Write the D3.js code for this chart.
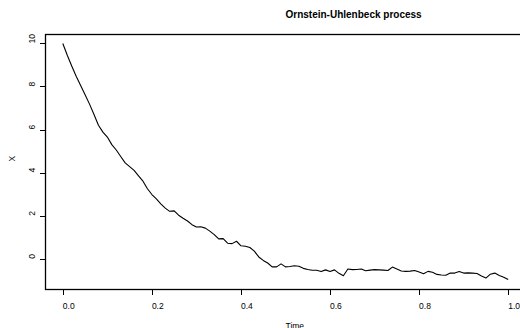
<!DOCTYPE html>
<html>
<head>
<meta charset="utf-8">
<script src="https://cdn.jsdelivr.net/npm/d3@7"></script>
<style>
  body { margin: 0; background: #fff; }
  svg { display: block; }
  text { font-family: "Liberation Sans", Arial, sans-serif; fill: #000; }
</style>
</head>
<body>
<svg id="chart" width="520" height="328"></svg>
<script>
// simulated path, one value per 0.01 of time
const times = d3.range(101).map(i => i / 100);
const values = [
    10.00, 9.45, 8.95, 8.48, 8.05, 7.62, 7.18, 6.70, 6.20, 5.88,
    5.65, 5.30, 5.05, 4.75, 4.45, 4.28, 4.10, 3.85, 3.60, 3.25,
    2.98, 2.78, 2.55, 2.35, 2.20, 2.22, 2.02, 1.88, 1.75, 1.58,
    1.47, 1.48, 1.42, 1.28, 1.12, 0.92, 0.93, 0.72, 0.70, 0.81,
    0.60, 0.58, 0.52, 0.35, 0.08, -0.08, -0.20, -0.38, -0.38, -0.24,
    -0.38, -0.36, -0.33, -0.35, -0.45, -0.50, -0.54, -0.54, -0.60, -0.52,
    -0.60, -0.52, -0.68, -0.79, -0.48, -0.51, -0.50, -0.48, -0.56, -0.53,
    -0.51, -0.52, -0.53, -0.55, -0.39, -0.48, -0.57, -0.59, -0.58, -0.55,
    -0.62, -0.70, -0.59, -0.63, -0.73, -0.76, -0.77, -0.67, -0.67, -0.60,
    -0.67, -0.66, -0.67, -0.69, -0.80, -0.90, -0.72, -0.67, -0.78, -0.86,
    -0.97
];
const xTicks = [0, 0.2, 0.4, 0.6, 0.8, 1.0];
const yTicks = [0, 2, 4, 6, 8, 10];

const title = "Ornstein-Uhlenbeck process";
const xLabel = "Time", yLabel = "X";

const svg = d3.select("#chart");
const box = { left: 45, right: 526, top: 34, bottom: 289 };

// R style 4% padding around the data
const pad = (ext) => { const d = (ext[1] - ext[0]) * 0.04; return [ext[0] - d, ext[1] + d]; };
const x = d3.scaleLinear().domain(pad(d3.extent(times))).range([box.left, box.right]);
const y = d3.scaleLinear().domain(pad(d3.extent(values))).range([box.bottom, box.top]);

const line = d3.line().x((d, i) => x(times[i])).y(d => y(d));
svg.append("path")
    .datum(values)
    .attr("d", line)
    .attr("fill", "none")
    .attr("stroke", "#000")
    .attr("stroke-width", 1.1)
    .attr("stroke-linejoin", "round");

svg.append("rect")
    .attr("x", box.left + 0.5).attr("y", box.top + 0.5)
    .attr("width", box.right - box.left).attr("height", box.bottom - box.top)
    .attr("fill", "none").attr("stroke", "#000").attr("stroke-width", 1.3);

// x axis ticks + labels (labels start at the tick)
const gx = svg.append("g");
gx.selectAll("line").data(xTicks).join("line")
    .attr("x1", d => Math.round(x(d)) + 0.5).attr("x2", d => Math.round(x(d)) + 0.5)
    .attr("y1", box.bottom).attr("y2", box.bottom + 6)
    .attr("stroke", "#000");
gx.selectAll("text").data(xTicks).join("text")
    .attr("x", d => x(d)).attr("y", 309)
    .attr("font-size", 8.5)
    .text(d => d3.format(".1f")(d));

// y axis ticks + rotated labels
const gy = svg.append("g");
gy.selectAll("line").data(yTicks).join("line")
    .attr("y1", d => Math.round(y(d)) + 0.5).attr("y2", d => Math.round(y(d)) + 0.5)
    .attr("x1", box.left - 5).attr("x2", box.left)
    .attr("stroke", "#000");
gy.selectAll("text").data(yTicks).join("text")
    .attr("transform", d => `translate(35,${y(d)}) rotate(-90)`)
    .attr("font-size", 8.5)
    .text(d => d);

svg.append("text")
    .attr("x", (box.left + box.right) / 2).attr("y", 17.5)
    .attr("font-size", 10).attr("font-weight", "bold")
    .text(title);

svg.append("text")
    .attr("x", (box.left + box.right) / 2).attr("y", 328.5)
    .attr("font-size", 8.5)
    .text(xLabel);

svg.append("text")
    .attr("transform", `translate(15,${(box.top + box.bottom) / 2}) rotate(-90)`)
    .attr("font-size", 8.5)
    .text(yLabel);
</script>
</body>
</html>
